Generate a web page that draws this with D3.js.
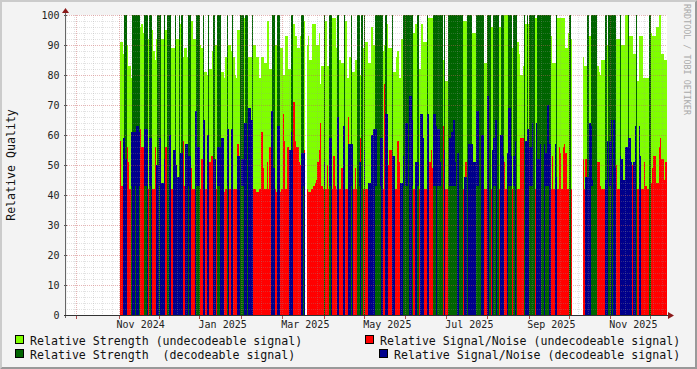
<!DOCTYPE html>
<html><head><meta charset="utf-8">
<script src="https://cdn.jsdelivr.net/npm/d3@7"></script>
<style>html,body{margin:0;padding:0;background:#f3f3f3}svg{display:block}text{font-family:"DejaVu Sans Mono",monospace}</style>
</head><body><svg id="c" width="697" height="369"></svg>
<script>
const strengthUndecoded=[
91,91,87,86,90,90,83,83,79,82, 82,82,83,84,84,96,97,94,89,84, 94,92,85,92,95,88,85,92,90,85, 92,92,92,95,95,90,90,89,89,89,
89,92,92,92,97,97,89,86,89,89, 86,86,98,98,98,92,92,92,90,90, 90,89,89,81,81,80,82,82,82,88, 88,90,90,85,85,79,81,81,79,86,
86,90,90,88,86,86,80,79,95,95, 95,99,99,99,99,86,86,86,86,86, 90,90,86,86,79,79,86,86,84,84, 98,98,82,82,88,88,90,90,90,89,
89,89,80,80,93,93,82,82,82,97, 97,93,93,89,89,93,98,98,98,0, 90,93,85,85,97,97,97,90,90,94, 77,83,83,98,98,83,83,93,93,99,
99,99,89,89,85,85,84,84,84,98, 79,79,86,86,81,81,85,85,85,85, 80,80,89,89,91,91,84,84,96,96, 90,92,92,92,92,92,92,88,90,97,
97,89,89,89,89,81,81,86,88,79, 79,92,92,92,92,92,97,97,99,99, 94,97,97,97,82,82,97,91,91,91, 99,99,99,99,99,79,79,79,79,79,
93,93,85,85,78,78,78,92,92,92, 92,92,92,92,92,98,98,98,98,98, 94,94,94,94,94,94,94,94,91,91, 91,91,91,84,84,100,100,100,96,96,
96,96,96,96,96,96,96,96,100,100, 100,100,100,100,89,89,91,91,91,87, 80,80,83,83,97,97,97,99,99,99, 99,99,99,99,99,99,99,99,98,98,
95,95,93,93,84,84,84,99,99,99, 99,99,99,99,89,89,94,94,92,0, 0,0,0,0,0,0,0,86,83,83, 95,93,93,93,96,96,96,83,83,81,
80,85,85,85,86,90,90,90,90,90, 90,92,92,92,92,90,90,90,90,100, 100,100,93,93,93,87,87,78,78,93, 93,93,79,79,79,79,79,94,94,93,
93,93,96,96,100,100,87,87,85,85];
const snrUndecoded=[
58,43,43,43,44,56,51,42,42,42, 42,42,42,42,42,62,56,56,42,42, 42,42,42,43,42,42,56,42,42,42, 42,42,43,42,56,42,42,42,42,42,
42,42,42,43,42,42,42,58,43,57, 57,57,42,49,42,42,42,42,42,51, 42,52,42,43,42,42,42,51,53,53, 43,42,42,42,42,42,42,42,41,42,
42,42,42,42,42,42,42,42,57,44, 42,42,42,43,42,42,42,51,44,43, 42,42,41,41,42,42,61,49,42,42, 51,42,56,42,42,42,42,41,42,42,
41,42,67,58,42,56,56,42,42,42, 71,58,56,56,51,50,44,55,55,0, 42,41,41,42,42,43,44,45,51,55, 64,43,42,42,42,50,42,42,42,42,
53,43,42,42,42,42,49,42,42,42, 42,66,42,42,42,42,49,42,51,51, 59,59,42,42,42,42,42,43,42,42, 44,42,42,42,43,43,42,42,77,42,
42,50,55,55,42,42,42,42,58,51, 44,43,42,42,42,42,53,42,42,42, 42,42,42,51,42,42,42,43,42,42, 42,42,51,55,49,42,42,42,42,42,
42,42,63,42,42,42,65,59,42,42, 42,42,68,68,42,42,42,42,42,51, 42,42,42,42,42,42,42,42,42,53, 42,54,50,42,42,42,42,42,42,51,
42,42,42,42,42,42,42,51,51,42, 42,42,42,42,42,42,42,42,42,42, 59,59,59,59,42,42,42,42,42,42, 42,42,42,42,42,42,42,42,42,42,
42,42,55,42,53,42,42,42,42,56, 54,42,56,57,54,42,42,42,42,0, 0,0,0,0,0,0,0,52,42,52, 49,42,51,42,42,42,42,42,51,51,
43,42,42,42,42,42,42,42,42,43, 42,42,50,42,42,43,42,42,42,42, 42,42,42,42,50,42,42,42,42,50, 42,42,42,51,43,42,42,44,44,49,
53,53,44,44,56,59,52,52,45,51];
const strengthDecodedDays=[3,4,9,10,11,12,13,14,18,19,20,22,23,28,29,30,33,35,36,37,41,44,46,51,52,57,58,59,62,66,70,73,74,75,80,84,90,91,92,94,95,99,114,115,118,119,128,129,136,137,153,157,158,163,168,173,178,179,181,183,191,192,193,194,195,196,199,204,212,213,214,215,216,217,218,219,223,230,235,236,237,238,239,240,241,243,246,247,248,249,250,251,252,253,254,255,256,260,261,262,263,267,268,269,270,271,272,275,276,277,280,281,282,283,286,287,291,292,293,295,296,297,303,305,307,308,309,310,313,314,315,316,317,318,319,320,321,322,327,337,350,351,353,354,355,356,357,364,366,367,368,369,370,371,375,381,387,397];
const strengthDecodedLowDays=[8,11,14,18,19,22,29,35,36,51,57,58,59,73,74,80,90,91,92,137,153,157,173,179,183,191,192,193,194,195,212,213,214,215,219,223,235,236,238,239,240,247,248,249,250,251,252,267,268,269,280,281,291,292,293,295,307,308,309,319,320,321,353,354,355,366,367];
const snrDecodedDays=[2,3,4,8,9,10,11,12,13,14,18,19,20,22,23,27,28,29,30,31,32,33,37,40,41,42,43,44,45,46,49,50,51,52,56,57,58,59,62,63,65,66,70,71,73,74,75,76,77,80,81,83,84,88,89,91,92,93,94,96,97,98,99,113,114,115,118,119,127,128,129,136,137,
137,138,153,157,158,163,167,168,171,172,173,174,179,180,183,186,187,188,189,190,191,192,195,196,199,200,204,205,210,211,212,214,215,217,218,219,221,222,223,225,226,227,230,231,235,236,237,238,239,240,243,247,248,249,250,251,253,258,259,261,262,263,264,265,266,267,268,271,272,275,276,279,280,281,282,285,286,287,290,291,292,293,295,296,304,305,306,307,308,309,312,313,314,315,318,319,320,321,322,326,327,349,350,351,352,353,354,364,365,367,368,370,371,375,376,377,378,379,380,381,382,383,385,386,389,390,397];
const snrDecodedValues=[59,59,52,61,61,61,61,63,63,61,62,62,62,59,59,50,50,59,59,44,44,52,60,55,55,50,46,46,54,54,57,57,53,53,68,68,56,56,65,65,60,60,52,52,56,56,56,59,59,62,62,62,62,53,53,52,52,64,64,69,69,65,65,68,68,49,63,63,55,61,55,54,54,
54,54,51,59,59,66,63,63,57,57,57,57,51,51,55,44,44,60,60,62,62,62,59,59,67,67,53,53,44,44,53,64,64,73,73,65,51,51,51,67,67,59,67,67,67,67,63,62,62,51,55,59,61,61,65,51,54,46,46,57,57,57,57,51,51,68,68,60,60,73,73,55,59,65,65,60,60,53,54,69,69,53,53,58,58,62,62,56,56,64,64,52,52,57,57,54,70,70,57,57,46,46,46,46,64,63,45,45,58,58,65,65,49,53,52,45,45,56,56,59,59,51,51,63,63,53];
const yTicks=[0,10,20,30,40,50,60,70,80,90,100];
const monthTickDays=[-33,-0.75,29.25,59.25,90.75,121.5,153,183,213.75,244.5,275.25,306.75,336.75,367.5,397.5];
const monthLabelDays=[15.5,77,139,200.5,262,323.5,385];
const monthLabels=["Nov 2024","Jan 2025","Mar 2025","May 2025","Jul 2025","Sep 2025","Nov 2025"];
const colors={lime:"#80ff00",green:"#006400",red:"#ff0000",blue:"#00008b"};
const legend=[
 {t:"Relative Strength (undecodeable signal)",c:colors.lime,sx:15,tx:30,y:345},
 {t:"Relative Strength  (decodeable signal)",c:colors.green,sx:15,tx:30,y:359},
 {t:"Relative Signal/Noise (undecodeable signal)",c:colors.red,sx:365,tx:380,y:345},
 {t:"Relative Signal/Noise (decodeable signal)",c:colors.blue,sx:379,tx:394,y:359}];

const W=697,H=369,L=67,R=667,T=15,B=315;
const svg=d3.select("#c");
svg.append("rect").attr("width",W).attr("height",H).attr("fill","#f3f3f3");
svg.append("path").attr("d",`M0 0H${W}L${W-2} 2H2V${H-2}L0 ${H}Z`).attr("fill","#cbcbcb");
svg.append("path").attr("d",`M${W} 0V${H}H0L2 ${H-2}H${W-2}V2Z`).attr("fill","#999999");
svg.append("rect").attr("x",L).attr("y",T).attr("width",R-L).attr("height",B-T).attr("fill","#fff");

const x=d3.scaleLinear().domain([-39.75,410.25]).range([L,R]);
const y=d3.scaleLinear().domain([0,100]).range([B,T]);
const px=d=>Math.round(x(d));
function layer(rows,color){
  svg.append("g").attr("shape-rendering","crispEdges").selectAll("rect").data(rows).join("rect")
   .attr("x",r=>px(r.d)).attr("width",r=>px(r.d+1)-px(r.d))
   .attr("y",r=>y(r.v)).attr("height",r=>B-y(r.v)).attr("fill",color);
}
layer(strengthUndecoded.map((v,d)=>({d,v})).filter(r=>r.v>0),colors.lime);
layer(snrUndecoded.map((v,d)=>({d,v})).filter(r=>r.v>0),colors.red);
layer(strengthDecodedDays.map(d=>({d,v:100})),colors.green);
layer(snrDecodedDays.map((d,i)=>({d,v:snrDecodedValues[i]})),colors.blue);
layer(strengthDecodedLowDays.map(d=>({d,v:43})),colors.green);

// grid over the data
const g=svg.append("g").attr("shape-rendering","crispEdges").attr("fill","none");
const hl=(vals,col)=>g.append("g").selectAll("line").data(vals).join("line")
  .attr("x1",L).attr("x2",R).attr("y1",v=>y(v)+.5).attr("y2",v=>y(v)+.5).attr("stroke",col).attr("stroke-dasharray","1,1");
const vl=(vals,col)=>g.append("g").selectAll("line").data(vals).join("line")
  .attr("y1",T).attr("y2",B).attr("x1",v=>px(v)+.5).attr("x2",v=>px(v)+.5).attr("stroke",col).attr("stroke-dasharray","1,1");
const minorY=d3.range(0,101,2).filter(v=>v%10);
const weekly=d3.range(-34.25,411,7);
hl(minorY,"rgba(150,150,150,.28)");vl(weekly,"rgba(150,150,150,.28)");
hl(yTicks.slice(1),"rgba(200,90,90,.45)");vl(monthTickDays,"rgba(200,90,90,.45)");

// axes
const ax=svg.append("g").call(d3.axisLeft(y).tickValues(yTicks).tickSize(3).tickPadding(4))
 .attr("transform",`translate(${L-.5},0)`);
ax.select(".domain").remove();
ax.selectAll("line").attr("stroke","#555").attr("shape-rendering","crispEdges");
ax.selectAll("text").attr("font-size",10).attr("font-family",'"DejaVu Sans Mono"').attr("fill","#222").attr("dy","0.34em");
const bx=svg.append("g").call(d3.axisBottom(x).tickValues(monthTickDays).tickSize(3).tickFormat(""))
 .attr("transform",`translate(0,${B+.5})`);
bx.select(".domain").remove();
bx.selectAll("line").attr("stroke","#b05050").attr("shape-rendering","crispEdges");
svg.append("line").attr("x1",L-1.5).attr("x2",L-1.5).attr("y1",11).attr("y2",B+3).attr("stroke","#666");
svg.append("line").attr("x1",L-3).attr("x2",671).attr("y1",B+.5).attr("y2",B+.5).attr("stroke","#333");
svg.append("path").attr("d",`M${L-5} 13L${L-1.5} 8L${L+2} 13Z`).attr("fill","#8b1a1a");
svg.append("path").attr("d",`M668 ${B-3}L674 ${B+.5}L668 ${B+4}Z`).attr("fill","#8b1a1a");

svg.append("g").selectAll("text").data(monthLabels).join("text")
 .attr("x",(t,i)=>x(monthLabelDays[i])).attr("y",328).attr("text-anchor","middle").attr("font-size",10).attr("fill","#222").text(t=>t);
svg.append("text").attr("transform","translate(15,165) rotate(-90)").attr("text-anchor","middle").attr("font-size",11.6).attr("fill","#111").text("Relative Quality");
svg.append("text").attr("transform","translate(684,4) rotate(90)").attr("font-size",8.4).attr("fill","#aaaaaa").text("RRDTOOL / TOBI OETIKER");

const lg=svg.append("g").selectAll("g").data(legend).join("g");
lg.append("rect").attr("x",l=>l.sx+.5).attr("y",l=>l.y-9.5).attr("width",8).attr("height",8).attr("fill",l=>l.c).attr("stroke","#000");
lg.append("text").attr("x",l=>l.tx).attr("y",l=>l.y).attr("font-size",11.6).attr("fill","#111").attr("xml:space","preserve").style("white-space","pre").text(l=>l.t);
</script></body></html>
